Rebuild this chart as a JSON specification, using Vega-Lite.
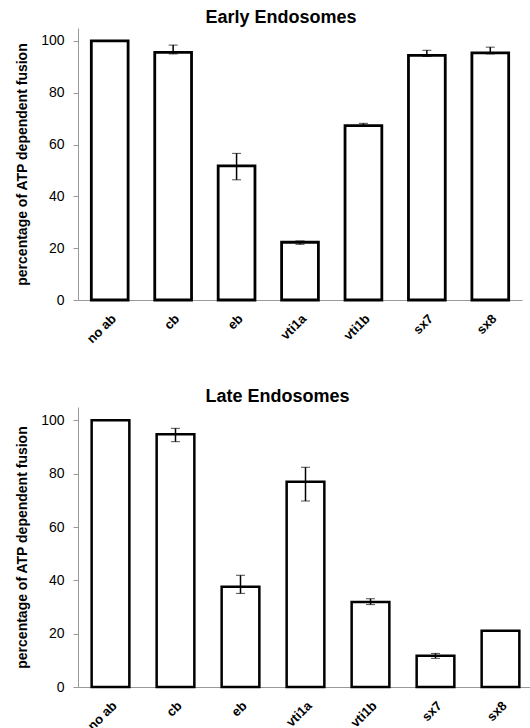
{
  "$schema": "https://vega.github.io/schema/vega-lite/v6.json",
  "padding": {"left": 15, "top": 9, "right": 0, "bottom": 0},
  "config": {
    "font": "Liberation Sans",
    "view": {"stroke": null},
    "title": {"fontSize": 18, "fontWeight": "bold", "color": "black", "offset": 1},
    "axis": {"grid": false, "domainColor": "#999999", "tickColor": "#999999", "labelColor": "black", "titleColor": "black"},
    "concat": {"spacing": 42}
  },
  "datasets": {
    "early": [
      {"cond": "no ab", "value": 100, "lo": null, "hi": null},
      {"cond": "cb", "value": 95.6, "lo": 95.0, "hi": 98.4},
      {"cond": "eb", "value": 51.8, "lo": 46.4, "hi": 56.6},
      {"cond": "vti1a", "value": 22.3, "lo": 21.5, "hi": 22.8},
      {"cond": "vti1b", "value": 67.3, "lo": 67.0, "hi": 68.2},
      {"cond": "sx7", "value": 94.4, "lo": 94.0, "hi": 96.4},
      {"cond": "sx8", "value": 95.4, "lo": 95.0, "hi": 97.6}
    ],
    "late": [
      {"cond": "no ab", "value": 100, "lo": null, "hi": null},
      {"cond": "cb", "value": 94.75, "lo": 92.0, "hi": 97.0},
      {"cond": "eb", "value": 37.6, "lo": 35.1, "hi": 41.9},
      {"cond": "vti1a", "value": 77.0, "lo": 69.75, "hi": 82.4},
      {"cond": "vti1b", "value": 31.9, "lo": 30.9, "hi": 33.1},
      {"cond": "sx7", "value": 11.75, "lo": 10.75, "hi": 12.6},
      {"cond": "sx8", "value": 21.1, "lo": null, "hi": null}
    ]
  },
  "vconcat": [
    {
      "title": {"text": "Early Endosomes", "dx": -19},
      "width": 444,
      "height": 272,
      "data": {"name": "early"},
      "encoding": {
        "x": {"field": "cond", "type": "nominal", "sort": null, "scale": {"paddingInner": 0.42},
          "axis": {"title": null, "labelAngle": -45, "labelFontWeight": "bold", "labelFontSize": 13, "ticks": false, "labelPadding": 12}}
      },
      "layer": [
        {
          "mark": {"type": "bar", "fill": "white", "stroke": "black", "strokeWidth": 2.8},
          "encoding": {
            "y": {"field": "value", "type": "quantitative", "scale": {"domain": [0, 105], "nice": false},
              "axis": {"title": "percentage of ATP dependent fusion", "values": [0, 20, 40, 60, 80, 100], "labelFontSize": 14, "tickSize": 5, "labelPadding": 9, "titleFontSize": 14, "titleFontWeight": "bold", "titlePadding": 11}}
          }
        },
        {
          "transform": [{"filter": "isValid(datum.lo)"}],
          "mark": {"type": "errorbar", "ticks": {"size": 9, "color": "black", "strokeWidth": 1.5}, "rule": {"color": "black", "strokeWidth": 1.5}},
          "encoding": {
            "y": {"field": "lo", "type": "quantitative", "title": "percentage of ATP dependent fusion"},
            "y2": {"field": "hi"}
          }
        }
      ]
    },
    {
      "title": {"text": "Late Endosomes", "dx": -28},
      "width": 455,
      "height": 280,
      "data": {"name": "late"},
      "encoding": {
        "x": {"field": "cond", "type": "nominal", "sort": null, "scale": {"paddingInner": 0.42},
          "axis": {"title": null, "labelAngle": -45, "labelFontWeight": "bold", "labelFontSize": 13, "ticks": false, "labelPadding": 12}}
      },
      "layer": [
        {
          "mark": {"type": "bar", "fill": "white", "stroke": "black", "strokeWidth": 2.5},
          "encoding": {
            "y": {"field": "value", "type": "quantitative", "scale": {"domain": [0, 105], "nice": false},
              "axis": {"title": "percentage of ATP dependent fusion", "values": [0, 20, 40, 60, 80, 100], "labelFontSize": 14, "tickSize": 5, "labelPadding": 9, "titleFontSize": 14, "titleFontWeight": "bold", "titlePadding": 11}}
          }
        },
        {
          "transform": [{"filter": "isValid(datum.lo)"}],
          "mark": {"type": "errorbar", "ticks": {"size": 9, "color": "black", "strokeWidth": 1.5}, "rule": {"color": "black", "strokeWidth": 1.5}},
          "encoding": {
            "y": {"field": "lo", "type": "quantitative", "title": "percentage of ATP dependent fusion"},
            "y2": {"field": "hi"}
          }
        }
      ]
    }
  ]
}
